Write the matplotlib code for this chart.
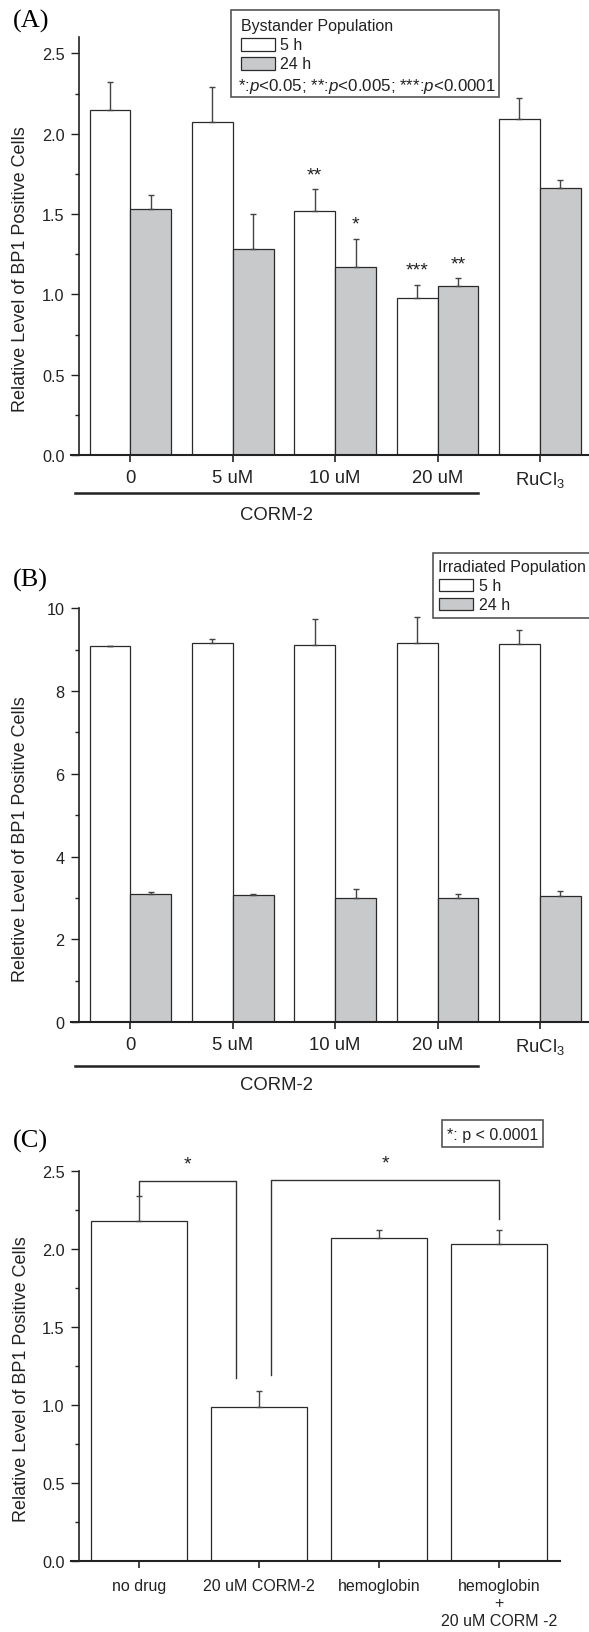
import matplotlib
matplotlib.use('Agg')
import matplotlib.pyplot as plt
import numpy as np
from matplotlib.patches import Rectangle
from matplotlib.ticker import MultipleLocator

plt.rcParams['font.family'] = ['Liberation Sans', 'DejaVu Sans']
plt.rcParams['mathtext.fontset'] = 'custom'
plt.rcParams['mathtext.rm'] = 'Liberation Sans'
plt.rcParams['mathtext.it'] = 'Liberation Sans:italic'
plt.rcParams['mathtext.bf'] = 'Liberation Sans:bold'

# ---- data ----
groups_ab = ['0', '5 uM', '10 uM', '20 uM', 'RuCl$_3$']

a_5h = [2.15, 2.07, 1.52, 0.98, 2.09]
a_5h_err = [0.17, 0.22, 0.135, 0.08, 0.13]
a_24h = [1.53, 1.28, 1.17, 1.05, 1.66]
a_24h_err = [0.09, 0.22, 0.175, 0.05, 0.05]
a_5h_sig = ['', '', '**', '***', '']
a_24h_sig = ['', '', '*', '**', '']

b_5h = [9.08, 9.17, 9.12, 9.15, 9.13]
b_5h_err = [0.02, 0.10, 0.63, 0.65, 0.35]
b_24h = [3.10, 3.08, 2.99, 3.00, 3.04]
b_24h_err = [0.05, 0.02, 0.22, 0.10, 0.12]

c_labels = ['no drug', '20 uM CORM-2', 'hemoglobin', 'hemoglobin\n+\n20 uM CORM -2']
c_vals = [2.18, 0.99, 2.07, 2.03]
c_err = [0.16, 0.10, 0.05, 0.09]
# brackets: (x left leg, x right leg, top, bottom of left leg, bottom of right leg)
c_brackets = [(0.0, 0.81, 2.43, 2.34, 1.17), (1.10, 3.0, 2.44, 1.19, 2.19)]

W, H = 589, 1633
GRAY = '#c8c9cb'
EDGE = '#2a2a2a'
ERR = '#444444'

fig = plt.figure(figsize=(W / 100, H / 100), dpi=100)


def px_box(l, t, r, b):
    return [l / W, 1 - b / H, (r - l) / W, (b - t) / H]


def fig_rect(l, t, r, b, **kw):
    fig.add_artist(Rectangle((l / W, 1 - b / H), (r - l) / W, (b - t) / H,
                             transform=fig.transFigure, **kw))


def fig_text(x, y, s, **kw):
    fig.text(x / W, 1 - y / H, s, **kw)


def style_axes(ax, ymax, major, minor):
    for s in ['top', 'right']:
        ax.spines[s].set_visible(False)
    ax.spines['left'].set_position(('data', -0.5))
    ax.spines['left'].set_linewidth(1.2)
    ax.spines['bottom'].set_linewidth(1.5)
    ax.spines['left'].set_color('#222222')
    ax.spines['bottom'].set_color('#222222')
    ax.set_ylim(0, ymax)
    ax.yaxis.set_major_locator(MultipleLocator(major))
    ax.yaxis.set_minor_locator(MultipleLocator(minor))
    ax.tick_params(axis='y', which='major', length=5.5, width=1, labelsize=11.7, pad=5,
                   colors='#222222')
    ax.tick_params(axis='y', which='minor', length=3, width=1, colors='#222222')
    ax.tick_params(axis='x', which='major', length=5, width=1.2, labelsize=13.3, pad=5,
                   colors='#222222')


def grouped(ax, v5, e5, v24, e24):
    x = np.arange(len(v5))
    ax.bar(x - 0.2, v5, 0.4, color='white', edgecolor=EDGE, linewidth=0.9, zorder=2)
    ax.bar(x + 0.2, v24, 0.4, color=GRAY, edgecolor=EDGE, linewidth=0.9, zorder=2)
    ax.errorbar(x - 0.2, v5, yerr=[np.zeros(len(e5)), e5], fmt='none', ecolor=ERR,
                elinewidth=1, capsize=2.3, capthick=1, zorder=3)
    ax.errorbar(x + 0.2, v24, yerr=[np.zeros(len(e24)), e24], fmt='none', ecolor=ERR,
                elinewidth=1, capsize=2.3, capthick=1, zorder=3)
    ax.set_xticks(x)
    ax.set_xticklabels(groups_ab)
    ax.set_xlim(-0.577, 4.48)
    return x


def corm_bracket(ax, yline, ytext):
    tr = ax.get_xaxis_transform()
    ax.plot([-0.54, 3.4], [yline, yline], color='#222222', lw=1.8, transform=tr,
            clip_on=False)
    ax.text(1.43, ytext, 'CORM-2', transform=tr, ha='center', va='center', fontsize=13.3,
            color='#222222')


# ---- panel A ----
axA = fig.add_axes(px_box(71.4, 38.3, 589, 456))
style_axes(axA, 2.6, 0.5, 0.25)
xa = grouped(axA, a_5h, a_5h_err, a_24h, a_24h_err)
for i in range(len(xa)):
    if a_5h_sig[i]:
        axA.text(xa[i] - 0.2, a_5h[i] + a_5h_err[i] + 0.09, a_5h_sig[i], ha='center',
                 va='center', fontsize=14, color='#222222')
    if a_24h_sig[i]:
        axA.text(xa[i] + 0.2, a_24h[i] + a_24h_err[i] + 0.09, a_24h_sig[i], ha='center',
                 va='center', fontsize=14, color='#222222')
corm_bracket(axA, -0.0903, -0.1413)
fig_text(21, 411.7, 'Relative Level of BP1 Positive Cells', rotation=90, ha='center',
         va='bottom', fontsize=13, color='#222222')
fig_text(13, 21, '(A)', family='Liberation Serif', fontsize=19, va='center', ha='left')

fig_rect(231, 11, 499, 98, facecolor='white', edgecolor='#555555', lw=1.2)
fig_text(241, 26, 'Bystander Population', fontsize=11.5, va='center', color='#222222')
fig_rect(241, 39.3, 275, 51.7, facecolor='white', edgecolor=EDGE, lw=0.9)
fig_rect(241, 58.3, 275, 70.7, facecolor=GRAY, edgecolor=EDGE, lw=0.9)
fig_text(280, 45.3, '5 h', fontsize=11.5, va='center', color='#222222')
fig_text(280, 64.3, '24 h', fontsize=11.5, va='center', color='#222222')
fig_text(238, 86, r'*:$p$<0.05; **:$p$<0.005; ***:$p$<0.0001',
         fontsize=12.2, va='center', color='#222222')

# ---- panel B ----
axB = fig.add_axes(px_box(71.4, 609.3, 589, 1023))
style_axes(axB, 10, 2, 1)
grouped(axB, b_5h, b_5h_err, b_24h, b_24h_err)
corm_bracket(axB, -0.1056, -0.1516)
fig_text(21, 981.7, 'Reletive Level of BP1 Positive Cells', rotation=90, ha='center',
         va='bottom', fontsize=13, color='#222222')
fig_text(13, 580.7, '(B)', family='Liberation Serif', fontsize=19, va='center', ha='left')

fig_rect(432.7, 554, 600, 618.7, facecolor='white', edgecolor='#555555', lw=1.2)
fig_text(438.3, 567.3, 'Irradiated Population', fontsize=11.5, va='center', color='#222222')
fig_rect(439, 580, 472.7, 592.3, facecolor='white', edgecolor=EDGE, lw=0.9)
fig_rect(439, 599, 472.7, 611, facecolor=GRAY, edgecolor=EDGE, lw=0.9)
fig_text(479.3, 586.7, '5 h', fontsize=11.5, va='center', color='#222222')
fig_text(479.3, 605.7, '24 h', fontsize=11.5, va='center', color='#222222')

# ---- panel C ----
axC = fig.add_axes(px_box(71, 1171.5, 560, 1562.3))
style_axes(axC, 2.5, 0.5, 0.25)
xc = np.arange(len(c_vals))
axC.bar(xc, c_vals, 0.8, color='white', edgecolor=EDGE, linewidth=0.9, zorder=2)
axC.errorbar(xc, c_vals, yerr=[np.zeros(len(c_err)), c_err], fmt='none', ecolor=ERR,
             elinewidth=1, capsize=2.3, capthick=1, zorder=3)
axC.set_xticks(xc)
axC.set_xticklabels(c_labels, fontsize=11.5, linespacing=1.2)
axC.tick_params(axis='x', pad=7)
axC.set_xlim(-0.569, 3.506)
for xl, xr, top, bl, br in c_brackets:
    axC.plot([xl, xl, xr, xr], [bl, top, top, br], color='#333333', lw=1, clip_on=False)
    axC.text((xl + xr) / 2, top + 0.11, '*', ha='center', va='center', fontsize=14,
             color='#222222')
fig_text(21.7, 1521.7, 'Relative Level of BP1 Positive Cells', rotation=90, ha='center',
         va='bottom', fontsize=13, color='#222222')
fig_text(13, 1141.7, '(C)', family='Liberation Serif', fontsize=19, va='center', ha='left')

fig_rect(442.3, 1120.7, 543.3, 1147.7, facecolor='white', edgecolor='#555555', lw=1.2)
fig_text(446.7, 1136, '*: p < 0.0001', fontsize=11.5, va='center', color='#222222')

fig.savefig('out.png', dpi=100)
